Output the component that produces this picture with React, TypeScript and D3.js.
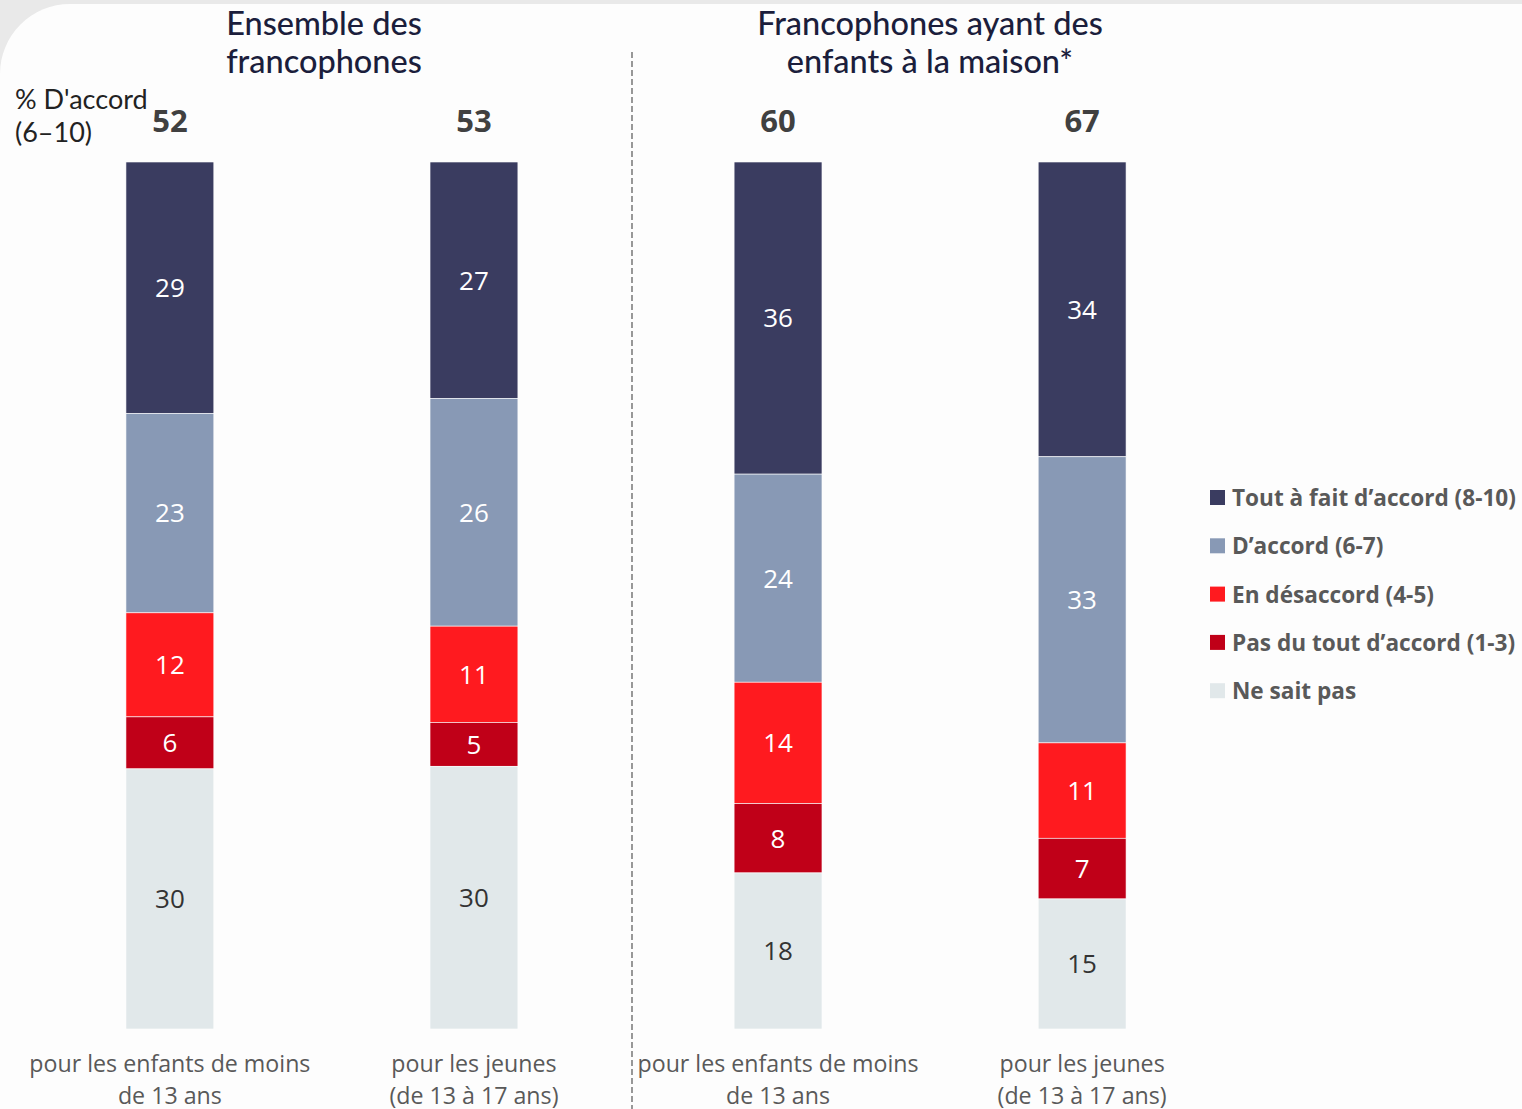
import React from "react";
import * as d3 from "d3";

const categories = ["c1", "c2", "c3", "c4"];
const categoryLines = [
  ["pour les enfants de moins", "de 13 ans"],
  ["pour les jeunes", "(de 13 à 17 ans)"],
  ["pour les enfants de moins", "de 13 ans"],
  ["pour les jeunes", "(de 13 à 17 ans)"],
];
const totals = [52, 53, 60, 67];
const seriesKeys = ["tout", "daccord", "desaccord", "pasdutout", "nsp"];
const seriesNames = [
  "Tout à fait d’accord (8-10)",
  "D’accord (6-7)",
  "En désaccord (4-5)",
  "Pas du tout d’accord (1-3)",
  "Ne sait pas",
];
const seriesColors = ["#3a3c60", "#8899b5", "#ff1a1f", "#c00018", "#e1e8ea"];
const toutValues = [29, 27, 36, 34];
const daccordValues = [23, 26, 24, 33];
const desaccordValues = [12, 11, 14, 11];
const pasdutoutValues = [6, 5, 8, 7];
const nspValues = [30, 30, 18, 15];
const groupTitles = [
  ["Ensemble des", "francophones"],
  ["Francophones ayant des", "enfants à la maison*"],
];

const W = 1522;
const H = 1109;

export default function App() {
  const rows = categories.map((c, i) => ({
    cat: c,
    tout: toutValues[i],
    daccord: daccordValues[i],
    desaccord: desaccordValues[i],
    pasdutout: pasdutoutValues[i],
    nsp: nspValues[i],
  }));
  const stack = d3.stack<any>().keys(seriesKeys).offset(d3.stackOffsetExpand);
  const stacked = stack(rows);

  const x = d3.scaleBand().domain(categories).range([18, 1234]).paddingInner(0.711).paddingOuter(0.355);
  const y = d3.scaleLinear().domain([0, 1]).range([162, 1029]);
  const bw = x.bandwidth();
  const font = "'Open Sans', 'Noto Sans', sans-serif";

  return (
    <div style={{ position: "absolute", left: 0, top: 0 }}>
      <svg width={W} height={H} style={{ display: "block" }}>
        <rect x={0} y={0} width={W} height={H} fill="#e9e9e9" />
        <rect x={0} y={4} width={W + 80} height={H + 80} rx={70} fill="#fdfdfd" />
        {/* group titles */}
        {groupTitles.map((g, gi) => (
          <text key={gi} x={gi === 0 ? 324 : 930} textAnchor="middle" fill="#1b1e3c" fontFamily="Lato, 'Open Sans', sans-serif" fontWeight={500} fontSize={32.5}>
            {g.map((l, li) => (
              <tspan key={li} x={gi === 0 ? 324 : 930} y={35 + li * 38}>{l}</tspan>
            ))}
          </text>
        ))}
        <text fill="#222" fontFamily="Lato, 'Open Sans', sans-serif" fontSize={27}>
          <tspan x={15} y={109}>% D'accord</tspan>
          <tspan x={15} y={142}>(6–10)</tspan>
        </text>
        {/* divider */}
        <line x1={632} x2={632} y1={52} y2={H} stroke="#555" strokeWidth={1.2} strokeDasharray="6,3" />
        {/* totals */}
        {categories.map((c, i) => (
          <text key={c} x={(x(c) as number) + bw / 2} y={132} textAnchor="middle" fontFamily={font} fontWeight="bold" fontSize={31} fill="#404040">
            {totals[i]}
          </text>
        ))}
        {/* bars */}
        {stacked.map((s, si) => (
          <g key={s.key}>
            {s.map((d, i) => {
              const c = categories[i];
              const y0 = y(d[0]);
              const y1 = y(d[1]);
              const v = (d.data as any)[s.key];
              return (
                <g key={c}>
                  <rect x={x(c)} y={y0} width={bw} height={y1 - y0} fill={seriesColors[si]} stroke="#ffffff" strokeWidth={0.6} />
                  <text x={(x(c) as number) + bw / 2} y={(y0 + y1) / 2} dy="0.36em" textAnchor="middle" fontFamily={font} fontSize={26} fill={si === 4 ? "#333333" : "#ffffff"}>
                    {v}
                  </text>
                </g>
              );
            })}
          </g>
        ))}
        {/* category labels */}
        {categories.map((c, i) => (
          <text key={c} textAnchor="middle" fontFamily={font} fontSize={23.2} fill="#595959">
            {categoryLines[i].map((l, li) => (
              <tspan key={li} x={(x(c) as number) + bw / 2} y={1072 + li * 32}>{l}</tspan>
            ))}
          </text>
        ))}
        {/* legend */}
        {seriesNames.map((n, i) => (
          <g key={n} transform={`translate(1210, ${498 + i * 48.3})`}>
            <rect x={0} y={-8} width={15} height={15} fill={seriesColors[i]} />
            <text x={22} y={0} dy="0.36em" fontFamily={font} fontWeight="bold" fontSize={22.6} fill="#595959">{n}</text>
          </g>
        ))}
      </svg>
    </div>
  );
}
